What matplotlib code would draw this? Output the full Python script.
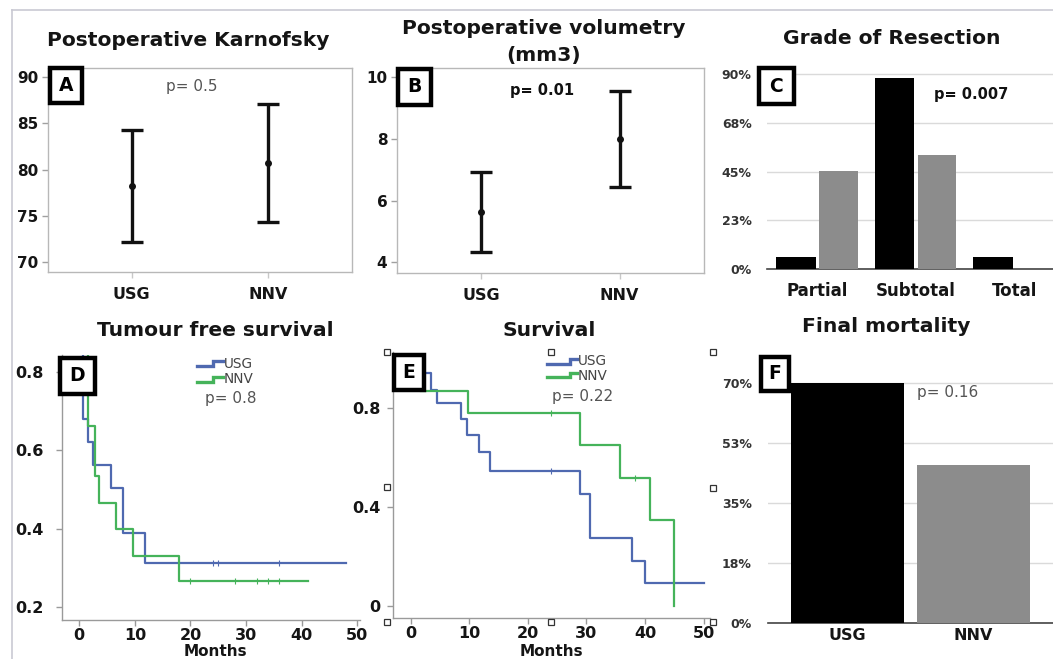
import matplotlib
matplotlib.use("Agg")
import matplotlib.pyplot as plt
from matplotlib.patches import Rectangle
from matplotlib.lines import Line2D
import numpy as np

plt.rcParams['font.family'] = ['DejaVu Sans']

# ---------------- data ----------------
groups = ["USG", "NNV"]
# A: Postoperative Karnofsky (mean, lower, upper)
karn_mean = [78.25, 80.7]
karn_low = [72.2, 74.3]
karn_high = [84.25, 87.05]
# B: Postoperative volumetry (mm3)
vol_mean = [5.64, 7.99]
vol_low = [4.34, 6.43]
vol_high = [6.92, 9.56]
# C: Grade of resection (%)
resection_cats = ["Partial", "Subtotal", "Total"]
resection_usg = [5.5, 88.1, 5.5]
resection_nnv = [45.5, 52.7, 0.0]
# D: Tumour free survival (Kaplan-Meier steps)
tfs_usg_t = [0, 0.6, 1.5, 2.4, 5.8, 7.8, 11.8, 48]
tfs_usg_s = [1.0, 0.68, 0.622, 0.563, 0.504, 0.388, 0.313, 0.313]
tfs_usg_cens_t = [24, 25, 36]
tfs_usg_cens_s = [0.313, 0.313, 0.313]
tfs_nnv_t = [0, 1.6, 2.8, 3.6, 6.6, 9.7, 17.9, 41.1]
tfs_nnv_s = [1.0, 0.662, 0.534, 0.466, 0.398, 0.330, 0.266, 0.266]
tfs_nnv_cens_t = [20, 28, 32, 34, 36]
tfs_nnv_cens_s = [0.266, 0.266, 0.266, 0.266, 0.266]
# E: Survival
os_usg_t = [0, 1.0, 3.5, 4.5, 8.5, 9.6, 11.7, 13.6, 28.9, 30.6, 37.8, 40.0, 50.1]
os_usg_s = [1.0, 0.939, 0.872, 0.818, 0.753, 0.69, 0.62, 0.544, 0.451, 0.272, 0.181, 0.093, 0.093]
os_usg_cens_t = [24]
os_usg_cens_s = [0.544]
os_nnv_t = [0, 1.5, 9.8, 28.9, 35.8, 40.9, 45.0]
os_nnv_s = [1.0, 0.867, 0.78, 0.649, 0.517, 0.346, 0.0]
os_nnv_cens_t = [24, 38.3]
os_nnv_cens_s = [0.78, 0.517]
# F: Final mortality (%)
mortality = [70.0, 46.0]

pct_ticks = [0, 22.5, 45, 67.5, 90]
pct_labels = ["0%", "23%", "45%", "68%", "90%"]
mort_ticks = [0, 17.5, 35, 52.5, 70]
mort_labels = ["0%", "18%", "35%", "53%", "70%"]

BLUE = "#4f69b0"
GREEN = "#45b35a"
GRAY = "#8c8c8c"
TXT = "#151515"

# ---------------- figure ----------------
W, H = 1053, 659
fig = plt.figure(figsize=(W / 100, H / 100), dpi=100)
fig.patch.set_facecolor("white")


def fx(x):
    return x / W


def fy(y):
    return 1 - y / H


def ax_px(x0, y0, x1, y1):
    return fig.add_axes([x0 / W, 1 - y1 / H, (x1 - x0) / W, (y1 - y0) / H])


def bold_ticks(ax, size_x, size_y):
    for lab in ax.get_xticklabels():
        lab.set_fontweight("bold"); lab.set_fontsize(size_x); lab.set_color(TXT)
    for lab in ax.get_yticklabels():
        lab.set_fontweight("bold"); lab.set_fontsize(size_y); lab.set_color(TXT)


def title(x, y, s, **kw):
    fig.text(fx(x), fy(y), s, ha="center", va="center", fontsize=14.6,
             fontweight="bold", color=TXT, **kw)


def letter_box(x0, y0, x1, y1, letter):
    r = Rectangle((fx(x0), fy(y1)), (x1 - x0) / W, (y1 - y0) / H,
                  transform=fig.transFigure, facecolor="white",
                  edgecolor="black", linewidth=3.2, zorder=20)
    fig.add_artist(r)
    fig.text(fx((x0 + x1) / 2), fy((y0 + y1) / 2), letter, ha="center",
             va="center", fontsize=13.5, fontweight="bold", color="black",
             zorder=21)


# outer frame lines
fig.add_artist(Line2D([fx(11.5), fx(11.5)], [fy(10), fy(659)], transform=fig.transFigure,
                      color="#c9c9d3", lw=1.2))
fig.add_artist(Line2D([fx(11.5), fx(1053)], [fy(10), fy(10)], transform=fig.transFigure,
                      color="#c9c9d3", lw=1.2))


def errpanel(box, mean, low, high, ylim, yticks):
    ax = ax_px(*box)
    x = np.arange(1, len(groups) + 1)
    m = np.array(mean); lo = np.array(low); hi = np.array(high)
    ax.errorbar(x, m, yerr=[m - lo, hi - m], fmt="o", color="#111111", ms=4,
                capsize=8, elinewidth=2.4, capthick=2.4)
    ax.set_xlim(0.39, 2.61)
    ax.set_ylim(*ylim)
    ax.set_yticks(yticks)
    ax.set_xticks(x)
    ax.set_xticklabels(groups)
    for s in ax.spines.values():
        s.set_color("#b8b8b8"); s.set_linewidth(1)
    ax.tick_params(axis="y", length=4, width=1, color="#a0a0a0", pad=3)
    ax.tick_params(axis="x", length=4, width=1, color="#c8c8c8", pad=7)
    bold_ticks(ax, 11.5, 11)
    return ax


# A
axA = errpanel((48, 68, 352, 272), karn_mean, karn_low, karn_high, (68.9, 91), [70, 75, 80, 85, 90])
title(188, 40, "Postoperative Karnofsky")
fig.text(fx(192), fy(87), "p= 0.5", ha="center", va="center", fontsize=11, color="#555555")
letter_box(50, 68, 82, 103, "A")

# B
axB = errpanel((397, 68, 704, 273), vol_mean, vol_low, vol_high, (3.65, 10.3), [4, 6, 8, 10])
fig.text(fx(544), fy(29), "Postoperative volumetry", ha="center", va="center", fontsize=14.6,
         fontweight="bold", color=TXT)
fig.text(fx(544), fy(55), "(mm3)", ha="center", va="center", fontsize=14.6,
         fontweight="bold", color=TXT)
fig.text(fx(541.7), fy(90), "p= 0.01", ha="center", va="center", fontsize=10.5,
         fontweight="bold", color="#111111")
letter_box(398, 69, 430.5, 105, "B")

# C
axC = ax_px(767, 60, 1053, 269.3)
xc = np.arange(len(resection_cats))
axC.bar(xc - 0.216, resection_usg, width=0.40, color="black", zorder=3)
axC.bar(xc + 0.216, resection_nnv, width=0.39, color=GRAY, zorder=3)
axC.set_xlim(-0.509, 2.391)
axC.set_ylim(0, 96.45)
axC.set_yticks(pct_ticks)
axC.set_yticklabels(pct_labels)
axC.set_xticks(xc)
axC.set_xticklabels(resection_cats)
axC.yaxis.grid(True, color="#dadada", lw=1)
axC.set_axisbelow(True)
for k in ["top", "right", "left"]:
    axC.spines[k].set_visible(False)
axC.spines["bottom"].set_color("#444444"); axC.spines["bottom"].set_linewidth(1.2)
axC.tick_params(axis="y", length=0, pad=11)
axC.tick_params(axis="x", length=0, pad=9)
bold_ticks(axC, 12, 9)
for lab in axC.get_yticklabels():
    lab.set_color("#333333")
title(892, 39, "Grade of Resection")
fig.text(fx(970.7), fy(95), "p= 0.007", ha="center", va="center", fontsize=10.5,
         fontweight="bold", color="#111111")
letter_box(759, 68, 794, 104, "C")


def km_panel(box, xlim, ylim, yticks, curves):
    ax = ax_px(*box)
    for t, s, ct, cs, col in curves:
        ax.step(t, s, where="post", color=col, lw=1.6)
        ax.plot(ct, cs, ls="none", marker="|", ms=4, mew=0.8, color=col)
    ax.set_xlim(*xlim)
    ax.set_ylim(*ylim)
    ax.set_xticks([0, 10, 20, 30, 40, 50])
    ax.set_yticks(yticks)
    for k in ["top", "right"]:
        ax.spines[k].set_visible(False)
    for k in ["left", "bottom"]:
        ax.spines[k].set_color("#9a9a9a"); ax.spines[k].set_linewidth(1)
    ax.tick_params(axis="both", length=4, width=1, color="#9a9a9a")
    ax.tick_params(axis="x", pad=2)
    return ax


def legend_sym(x0, xs, x1, ylow, yhigh, col):
    fig.add_artist(Line2D([fx(x0), fx(xs), fx(xs), fx(x1)],
                          [fy(ylow), fy(ylow), fy(yhigh), fy(yhigh)],
                          transform=fig.transFigure, color=col, lw=2.4,
                          solid_joinstyle="miter"))


# D
axD = km_panel((61.7, 355, 360, 620), (-3.15, 50.5), (0.166, 0.844), [0.2, 0.4, 0.6, 0.8],
               [(tfs_usg_t, tfs_usg_s, tfs_usg_cens_t, tfs_usg_cens_s, BLUE),
                (tfs_nnv_t, tfs_nnv_s, tfs_nnv_cens_t, tfs_nnv_cens_s, GREEN)])
axD.set_yticklabels(["0.2", "0.4", "0.6", "0.8"])
axD.tick_params(axis="y", pad=9)
bold_ticks(axD, 11.5, 11.5)
title(215, 330, "Tumour free survival")
fig.text(fx(215), fy(651), "Months", ha="center", va="center", fontsize=11,
         fontweight="bold", color=TXT)
legend_sym(197, 213, 223, 366, 361.5, BLUE)
legend_sym(197, 213, 223, 381.5, 377, GREEN)
fig.text(fx(223.5), fy(363.5), "USG", ha="left", va="center", fontsize=9.8, color="#444444")
fig.text(fx(223.5), fy(379), "NNV", ha="left", va="center", fontsize=9.8, color="#444444")
fig.text(fx(231), fy(399), "p= 0.8", ha="center", va="center", fontsize=11, color="#555555")
letter_box(59.5, 358, 95, 393.5, "D")

# E
axE = km_panel((392.7, 352, 710, 618), (-3.1, 51.1), (-0.05, 1.025), [0, 0.4, 0.8],
               [(os_usg_t, os_usg_s, os_usg_cens_t, os_usg_cens_s, BLUE),
                (os_nnv_t, os_nnv_s, os_nnv_cens_t, os_nnv_cens_s, GREEN)])
axE.set_yticklabels(["0", "0.4", "0.8"])
axE.tick_params(axis="y", pad=5)
bold_ticks(axE, 11.5, 11.5)
title(549, 330, "Survival")
fig.text(fx(551), fy(651), "Months", ha="center", va="center", fontsize=11,
         fontweight="bold", color=TXT)
legend_sym(547, 570, 577, 363.5, 359.5, BLUE)
legend_sym(547, 570, 577, 377, 373, GREEN)
fig.text(fx(578), fy(361), "USG", ha="left", va="center", fontsize=9.8, color="#444444")
fig.text(fx(578), fy(375.5), "NNV", ha="left", va="center", fontsize=9.8, color="#444444")
fig.text(fx(582.5), fy(396), "p= 0.22", ha="center", va="center", fontsize=11, color="#555555")
letter_box(393.5, 355, 424, 390, "E")

# F
axF = ax_px(768.3, 352, 1053, 622.7)
xf = np.arange(len(groups))
axF.bar(xf, mortality, width=0.9, color=["black", GRAY], zorder=3)
axF.set_xlim(-0.627, 1.63)
axF.set_ylim(0, 79.15)
axF.set_yticks(mort_ticks)
axF.set_yticklabels(mort_labels)
axF.set_xticks(xf)
axF.set_xticklabels(groups)
axF.yaxis.grid(True, color="#dadada", lw=1)
axF.set_axisbelow(True)
for k in ["top", "right", "left"]:
    axF.spines[k].set_visible(False)
axF.spines["bottom"].set_color("#444444"); axF.spines["bottom"].set_linewidth(1.2)
axF.tick_params(axis="y", length=0, pad=12)
axF.tick_params(axis="x", length=0, pad=4)
bold_ticks(axF, 11.5, 9)
for lab in axF.get_yticklabels():
    lab.set_color("#333333")
title(886.7, 327, "Final mortality")
fig.text(fx(948), fy(393), "p= 0.16", ha="center", va="center", fontsize=11, color="#555555")
letter_box(761, 357, 788.5, 390.5, "F")

# small selection handles
for (hx, hy) in [(387, 352), (551, 352.5), (713, 352), (387, 487), (713, 487.5),
                 (387, 622), (551, 622), (713, 622)]:
    fig.add_artist(Rectangle((fx(hx - 3), fy(hy + 3)), 6 / W, 6 / H, transform=fig.transFigure,
                             facecolor="white", edgecolor="#333333", lw=0.9, zorder=25))

fig.savefig("out.png", dpi=100, facecolor="white")
